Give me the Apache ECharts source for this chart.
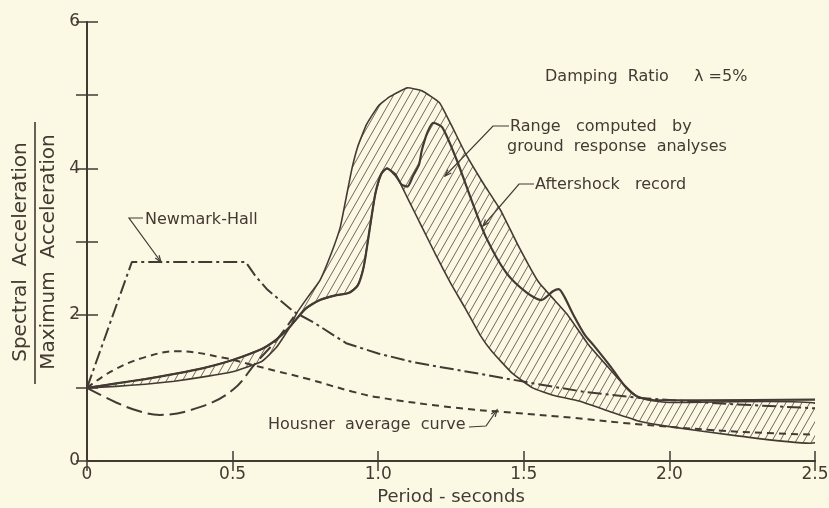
<!DOCTYPE html>
<html>
<head>
<meta charset="utf-8">
<script src="https://cdn.jsdelivr.net/npm/echarts@6/dist/echarts.min.js"></script>
<style>
  html, body { margin: 0; padding: 0; background: #fbf8e4; }
  #chart { width: 829px; height: 508px; }
</style>
</head>
<body>
<div id="chart"></div>
<script>
// curves, [period, spectral acc / max acc]
var bandOuter = [[0,1.0],[0.1,1.02],[0.2,1.05],[0.3,1.09],[0.4,1.15],[0.5,1.22],[0.6,1.36],[0.65,1.55],[0.7,1.85],[0.72,2.02],
    [0.76,2.25],[0.8,2.47],[0.84,2.85],[0.87,3.2],[0.89,3.6],[0.91,4.0],[0.93,4.3],[0.96,4.6],[1.0,4.85],[1.04,4.98],
    [1.1,5.1],[1.15,5.06],[1.21,4.9],[1.25,4.6],[1.3,4.2],[1.36,3.8],[1.42,3.43],[1.48,2.95],[1.55,2.45],[1.65,2.0],
    [1.72,1.6],[1.79,1.28],[1.83,1.1],[1.89,0.88],[1.95,0.82],[2.0,0.8],[2.5,0.79]];
var bandInner = [[0,1.0],[0.1,1.06],[0.2,1.12],[0.3,1.19],[0.4,1.27],[0.5,1.38],[0.6,1.53],[0.65,1.66],[0.7,1.85],[0.75,2.08],
    [0.8,2.2],[0.85,2.26],[0.9,2.3],[0.93,2.4],[0.95,2.65],[0.97,3.15],[0.99,3.65],[1.01,3.92],[1.03,4.0],[1.06,3.92],
    [1.1,3.6],[1.15,3.2],[1.2,2.8],[1.25,2.42],[1.3,2.08],[1.35,1.72],[1.39,1.5],[1.46,1.2],[1.53,1.0],[1.6,0.9],
    [1.69,0.82],[1.8,0.67],[1.9,0.54],[2.0,0.47],[2.24,0.34],[2.5,0.25]];
var aftershock = [[0,1.0],[0.1,1.06],[0.2,1.12],[0.3,1.19],[0.4,1.27],[0.5,1.38],[0.6,1.53],[0.65,1.66],[0.7,1.85],[0.75,2.08],
    [0.8,2.2],[0.85,2.26],[0.9,2.3],[0.93,2.4],[0.95,2.65],[0.97,3.15],[0.99,3.65],[1.01,3.92],[1.03,4.0],[1.06,3.9],
    [1.08,3.78],[1.1,3.75],[1.12,3.9],[1.14,4.05],[1.15,4.25],[1.17,4.5],[1.19,4.62],[1.22,4.56],[1.27,4.11],[1.32,3.57],
    [1.37,3.06],[1.44,2.57],[1.51,2.3],[1.56,2.2],[1.6,2.32],[1.62,2.35],[1.64,2.24],[1.67,2.0],[1.71,1.72],[1.74,1.58],
    [1.8,1.28],[1.85,1.01],[1.89,0.88],[1.95,0.83],[2.1,0.83],[2.5,0.84]];
var newmarkHall = [[0,1.0],[0.154,2.72],[0.545,2.72],[0.58,2.52],[0.62,2.34],[0.71,2.04],[0.78,1.89],[0.89,1.61],[1.0,1.47],
    [1.12,1.35],[1.35,1.19],[1.52,1.07],[1.7,0.95],[1.9,0.86],[2.2,0.78],[2.5,0.72]];
var housner = [[0,1.0],[0.09,1.24],[0.2,1.42],[0.31,1.5],[0.47,1.41],[0.57,1.31],[0.66,1.22],[0.76,1.12],[0.91,0.95],[1.0,0.87],
    [1.26,0.73],[1.46,0.66],[1.67,0.59],[1.9,0.5],[2.24,0.4],[2.5,0.36]];
var longDash = [[0,1.0],[0.1,0.8],[0.18,0.68],[0.25,0.63],[0.39,0.74],[0.5,0.97],[0.58,1.34],[0.65,1.65],[0.71,1.97]];

var xTicks = ['0', '0.5', '1.0', '1.5', '2.0', '2.5'];
var ink = '#433a33';
var font = 'DejaVu Sans';
var noteFont = '16px "DejaVu Sans"';

// hatch pattern for the computed range
var hatch = document.createElement('canvas');
hatch.width = 8; hatch.height = 14;
var g = hatch.getContext('2d');
g.strokeStyle = '#62574d';
g.lineWidth = 0.9;
[-8, 0, 8].forEach(function (d) {
    g.beginPath();
    g.moveTo(d, 14);
    g.lineTo(d + 8, 0);
    g.stroke();
});

var bandPoly = bandOuter.concat(bandInner.slice().reverse());

// leader line with a small arrow head at its last point
function leader(pts) {
    var a = pts[pts.length - 2], b = pts[pts.length - 1];
    var ang = Math.atan2(b[1] - a[1], b[0] - a[0]);
    var head = [
        [b[0] - 7 * Math.cos(ang - 0.35), b[1] - 7 * Math.sin(ang - 0.35)],
        b,
        [b[0] - 7 * Math.cos(ang + 0.35), b[1] - 7 * Math.sin(ang + 0.35)]
    ];
    return [
        {type: 'polyline', shape: {points: pts}, style: {stroke: ink, lineWidth: 1.2, fill: null}},
        {type: 'polyline', shape: {points: head}, style: {stroke: ink, lineWidth: 1.2, fill: null}}
    ];
}

var myChart = echarts.init(document.getElementById('chart'));
var option = {
    backgroundColor: '#fbf8e4',
    animation: false,
    grid: {left: 87, right: 14, top: 22, bottom: 47, outerBoundsMode: 'none'},
    xAxis: [{
        type: 'value', min: 0, max: 2.5, interval: 0.5,
        axisLine: {lineStyle: {color: ink, width: 2}},
        axisTick: {inside: true, length: 10, lineStyle: {color: ink, width: 1.5}},
        axisLabel: {color: ink, fontFamily: font, fontSize: 17, margin: 5,
            formatter: function (v) { return xTicks[Math.round(v / 0.5)]; }},
        splitLine: {show: false},
        name: 'Period - seconds', nameLocation: 'middle', nameGap: 27,
        nameTextStyle: {color: ink, fontFamily: font, fontSize: 18}
    }, {
        type: 'value', position: 'top', min: 0, max: 2.5, interval: 0.5,
        axisLine: {lineStyle: {color: ink, width: 2}},
        axisTick: {inside: true, length: 10, lineStyle: {color: ink, width: 1.5}},
        axisLabel: {show: false},
        splitLine: {show: false}
    }],
    yAxis: [{
        type: 'value', min: 0, max: 6, interval: 1,
        axisLine: {show: true, lineStyle: {color: ink, width: 2}},
        axisTick: {show: true, inside: true, length: 11, lineStyle: {color: ink, width: 1.5}},
        axisLabel: {color: ink, fontFamily: font, fontSize: 17, margin: 7,
            formatter: function (v) { return v % 2 === 0 ? String(v) : ''; }},
        splitLine: {show: false}
    }, {
        type: 'value', position: 'right', min: 0, max: 6, interval: 1,
        axisLine: {show: true, lineStyle: {color: ink, width: 2}},
        axisTick: {show: true, inside: true, length: 11, lineStyle: {color: ink, width: 1.5}},
        axisLabel: {show: false},
        splitLine: {show: false}
    }],
    series: [{
        type: 'custom',
        name: 'Range computed by ground response analyses',
        data: [[0, 0]],
        clip: true,
        z: 1,
        renderItem: function (params, api) {
            var pts = bandPoly.map(function (p) { return api.coord(p); });
            return {
                type: 'polygon',
                shape: {points: pts, smooth: 0.12},
                style: {fill: {image: hatch, repeat: 'repeat'}, stroke: ink, lineWidth: 1.6}
            };
        }
    }, {
        type: 'line', name: 'Aftershock record', data: aftershock, smooth: 0.25, symbol: 'none', z: 3,
        lineStyle: {color: ink, width: 2.2}
    }, {
        type: 'line', name: 'Newmark-Hall', data: newmarkHall, smooth: false, symbol: 'none', z: 2,
        lineStyle: {color: ink, width: 2, type: [14, 4, 3, 4]}
    }, {
        type: 'line', name: 'Housner average curve', data: housner, smooth: 0.4, symbol: 'none', z: 2,
        lineStyle: {color: ink, width: 2, type: [7, 5]}
    }, {
        type: 'line', name: 'long dash', data: longDash, smooth: 0.4, symbol: 'none', z: 2,
        lineStyle: {color: ink, width: 2, type: [16, 6]}
    }],
    graphic: [
        {type: 'text', x: 21, y: 252, rotation: Math.PI / 2, style: {text: 'Spectral  Acceleration', fill: ink, font: '20px "DejaVu Sans"', align: 'center', verticalAlign: 'middle'}},
        {type: 'line', shape: {x1: 35, y1: 122, x2: 35, y2: 384}, style: {stroke: ink, lineWidth: 1.6}},
        {type: 'text', x: 49, y: 252, rotation: Math.PI / 2, style: {text: 'Maximum  Acceleration', fill: ink, font: '20px "DejaVu Sans"', align: 'center', verticalAlign: 'middle'}},
        {type: 'text', x: 545, y: 77, style: {text: 'Damping  Ratio', fill: ink, font: noteFont, verticalAlign: 'middle'}},
        {type: 'text', x: 694, y: 77, style: {text: 'λ =5%', fill: ink, font: noteFont, verticalAlign: 'middle'}},
        {type: 'text', x: 510, y: 127, style: {text: 'Range   computed   by', fill: ink, font: noteFont, verticalAlign: 'middle'}},
        {type: 'text', x: 507, y: 147, style: {text: 'ground  response  analyses', fill: ink, font: noteFont, verticalAlign: 'middle'}},
        {type: 'text', x: 535, y: 185, style: {text: 'Aftershock   record', fill: ink, font: noteFont, verticalAlign: 'middle'}},
        {type: 'text', x: 145, y: 220, style: {text: 'Newmark-Hall', fill: ink, font: noteFont, verticalAlign: 'middle'}},
        {type: 'text', x: 268, y: 425, style: {text: 'Housner  average  curve', fill: ink, font: noteFont, verticalAlign: 'middle'}}
    ].concat(
        leader([[509, 126], [493, 126], [445, 176]]),
        leader([[534, 184], [519, 184], [483, 226]]),
        leader([[143, 218], [129, 218], [161, 262]]),
        leader([[469, 427], [486, 426], [497, 410]])
    )
};
myChart.setOption(option);
</script>
</body>
</html>
